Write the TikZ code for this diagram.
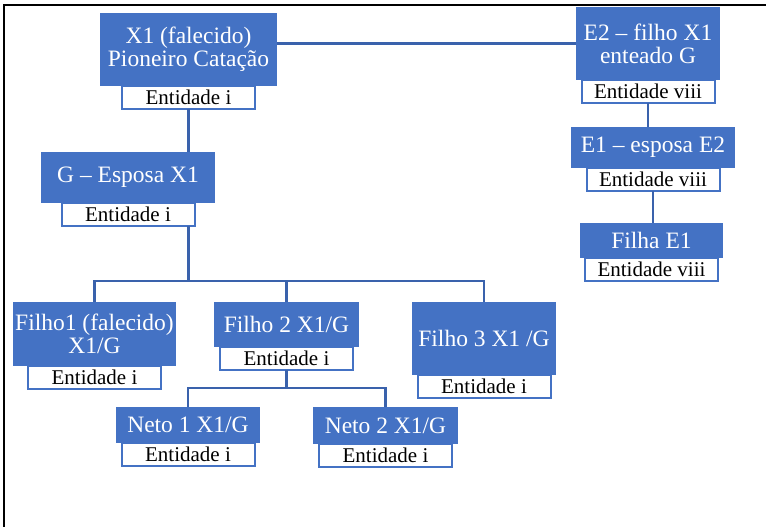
\documentclass[tikz,border=0pt]{standalone}
\usepackage{fontspec}
\setmainfont{Liberation Serif}
\usetikzlibrary{positioning}
\definecolor{azul}{HTML}{4472C4}
\definecolor{linha}{HTML}{3A62AC}
\tikzset{
  pessoa/.style={fill=azul, text=white, align=center, inner sep=1pt, outer sep=0pt,
    font=\fontsize{23.5}{23}\selectfont},
  entidade/.style={fill=white, draw=azul, line width=2pt, minimum width=133pt,
    minimum height=23pt, inner sep=0pt, outer sep=0pt, font=\fontsize{21}{21}\selectfont},
  liga/.style={draw=linha, line width=2.5pt}
}
\begin{document}
\begin{tikzpicture}[x=1pt,y=1pt]
\useasboundingbox (0,0) rectangle (766,527);
\draw[black,line width=1.5pt] (4,0) -- (4,522) -- (766,522);
% familia X1 / G
\node[pessoa,minimum width=177pt,minimum height=73pt] (x1) at (188.5,477.5) {X1 (falecido)\\Pioneiro Cata\c{c}\~ao};
\node[entidade,below=0pt of x1] (x1l) {Entidade i};
\node[pessoa,minimum width=174pt,minimum height=51pt] (g) at (128,349.5) {G -- Esposa X1};
\node[entidade,below=0pt of g] (gl) {Entidade i};
\node[pessoa,minimum width=163pt,minimum height=64pt] (f1) at (94.5,193) {Filho1 (falecido)\\X1/G};
\node[entidade,below=0pt of f1] (f1l) {Entidade i};
\node[pessoa,minimum width=145pt,minimum height=45pt] (f2) at (286.5,202.5) {Filho 2 X1/G};
\node[entidade,below=0pt of f2] (f2l) {Entidade i};
\node[pessoa,minimum width=144pt,minimum height=73pt] (f3) at (484,188.5) {Filho 3 X1 /G};
\node[entidade,below=0pt of f3] (f3l) {Entidade i};
\node[pessoa,minimum width=144pt,minimum height=36pt] (n1) at (188,102) {Neto 1 X1/G};
\node[entidade,below=0pt of n1] (n1l) {Entidade i};
\node[pessoa,minimum width=145pt,minimum height=37pt] (n2) at (385.5,101.5) {Neto 2 X1/G};
\node[entidade,below=0pt of n2] (n2l) {Entidade i};
% familia E2
\node[pessoa,minimum width=144pt,minimum height=73pt] (e2) at (648,483.5) {E2 -- filho X1\\enteado G};
\node[entidade,below=0pt of e2] (e2l) {Entidade viii};
\node[pessoa,minimum width=164pt,minimum height=41pt] (e1) at (653,379.5) {E1 -- esposa E2};
\node[entidade,below=0pt of e1] (e1l) {Entidade viii};
\node[pessoa,minimum width=143pt,minimum height=35pt] (fe1) at (651.5,286.5) {Filha E1};
\node[entidade,below=0pt of fe1] (fe1l) {Entidade viii};
\coordinate (bus) at (286,246);
\coordinate (nbus) at (286,139);
% ligacoes
\draw[liga] (x1.east |- e2.west) -- (e2.west);
\draw[liga] (x1l.south) -- (x1l.south |- g.north);
\draw[liga] (x1l.south |- gl.south) -- (x1l.south |- bus);
\draw[liga] (f1.north) |- (f3.north |- bus) -- (f3.north);
\draw[liga] (f2.north) -- (f2.north |- bus);
\draw[liga] (f2l.south) -- (f2l.south |- nbus);
\draw[liga] (n1.north) |- (n2.north |- nbus) -- (n2.north);
\draw[liga] (e2l.south) -- (e2l.south |- e1.north);
\draw[liga] (e1l.south) -- (e1l.south |- fe1.north);
\end{tikzpicture}
\end{document}
